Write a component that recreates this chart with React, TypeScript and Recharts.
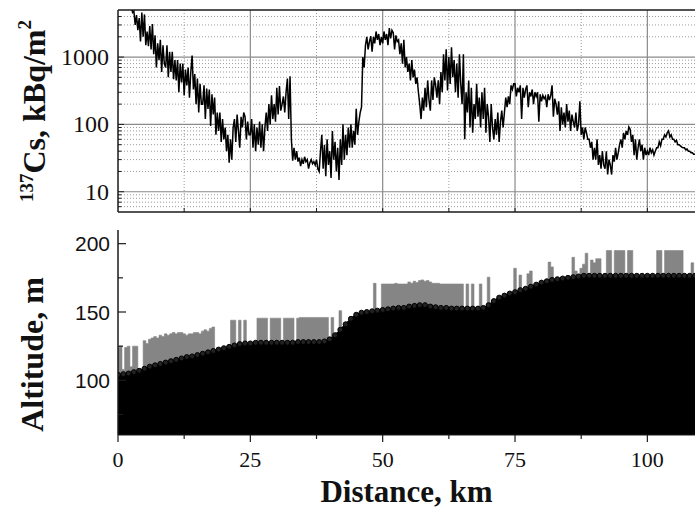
import React from 'react';
import { LineChart, ComposedChart, Line, Area, XAxis, YAxis, ReferenceLine } from 'recharts';

const SERIF = '"Liberation Serif", "Times New Roman", serif';
const SANS = '"Liberation Sans", Arial, sans-serif';

// 137Cs along the route, one reading every 0.25 km from 0 km (four per row = one km)
const CS_STEP = 0.25;
const csValues = [
  9000, 7500, 8000, 6000,
  8500, 6500, 7000, 6000,
  7500, 5500, 6000, 4600,
  4800, 3000, 4200, 2500,
  3800, 1700, 4600, 2000,
  4300, 1500, 2400, 1450,
  2900, 1300, 3100, 1100,
  2100, 700, 1600, 900,
  1800, 600, 1500, 800,
  700, 1500, 500, 1200,
  600, 1200, 470, 900,
  450, 900, 300, 800,
  420, 800, 270, 650,
  380, 700, 250, 600,
  1050, 330, 560, 200,
  480, 150, 400, 200,
  200, 380, 120, 340,
  170, 330, 95, 280,
  140, 250, 70, 150,
  80, 150, 55, 120,
  60, 90, 40, 70,
  27, 60, 30, 90,
  120, 55, 140, 80,
  45, 130, 90, 150,
  130, 60, 110, 70,
  70, 120, 45, 100,
  40, 90, 50, 110,
  45, 100, 40, 90,
  150, 80, 200, 100,
  270, 120, 200, 110,
  350, 140, 370, 160,
  200, 260, 150, 300,
  480, 120, 520, 60,
  29, 45, 30, 40,
  28, 32, 24, 30,
  26, 33, 28, 30,
  22, 27, 30, 26,
  28, 25, 30, 22,
  20, 40, 70, 22,
  50, 17, 60, 25,
  40, 16, 80, 30,
  55, 20, 45, 15,
  60, 25, 100, 30,
  70, 35, 90, 45,
  100, 45, 80, 50,
  170, 70, 110, 150,
  180, 1000, 700, 1500,
  2000, 1300, 1700, 2050,
  1200, 2000, 1600, 2400,
  1800, 2200, 1500, 2000,
  1600, 2400, 1800, 2200,
  1500, 2700, 1900, 2500,
  2300, 1300, 2100, 1700,
  1800, 1100, 1600, 800,
  1800, 700, 1000, 600,
  800, 450, 900, 500,
  650, 400, 500, 300,
  200, 120, 250, 160,
  350, 180, 450, 230,
  160, 450, 230, 500,
  380, 250, 450, 200,
  600, 300, 1100, 450,
  1300, 320, 1000, 400,
  1400, 500, 900, 300,
  800, 250, 1100, 400,
  200, 1100, 60, 300,
  150, 450, 90, 350,
  75, 200, 120, 400,
  130, 250, 90, 300,
  120, 350, 75, 200,
  130, 55, 200, 90,
  60, 120, 70, 150,
  55, 110, 160, 90,
  150, 250, 180, 260,
  200, 380, 330, 400,
  400, 260, 350, 300,
  380, 120, 350, 250,
  330, 380, 180, 300,
  260, 330, 200, 300,
  260, 300, 110, 280,
  220, 270, 240, 260,
  180, 280, 230, 270,
  380, 130, 240, 200,
  140, 220, 80, 180,
  100, 150, 90, 200,
  110, 160, 80, 140,
  110, 90, 150, 80,
  100, 220, 70, 90,
  60, 90, 75, 60,
  60, 45, 55, 30,
  45, 30, 60, 25,
  35, 22, 40, 25,
  22, 40, 18, 30,
  25, 18, 35, 28,
  45, 30, 38, 50,
  60, 45, 75, 60,
  80, 70, 92, 85,
  55, 70, 35, 60,
  30, 45, 60, 40,
  50, 30, 45, 35,
  40, 35, 45, 38,
  42, 35, 40, 45,
  45, 55, 48, 60,
  60, 70, 65, 75,
  80, 65, 70, 60,
  60, 55, 58, 50,
  50, 48, 46, 45,
  45, 42, 43, 40,
  40, 38, 38, 36,
  36,
];

// ground altitude (m), one value per km from 0 km
const groundValues = [
  104, 104.5, 105, 106, 107, 108.5, 110, 111, 112, 113,
  114, 115, 116, 117, 117.5, 118.5, 119.5, 120.5, 121.5, 122.5,
  123.5, 124.5, 125.5, 126.5, 127, 127, 127.5, 127.5, 127.5, 127.5,
  127.5, 127.5, 127.5, 127.5, 128, 128, 128, 128, 128, 128.5,
  130, 133, 137, 141, 145, 148, 149.5, 150, 150.5, 151,
  151.5, 152, 152.5, 153, 153, 154, 154.5, 155, 155, 154,
  153.5, 153, 153, 152.5, 152.5, 152.5, 152.5, 152.5, 152.5, 153,
  155, 158, 160.5, 162, 163.5, 164.5, 166, 167, 168.5, 170,
  171.5, 172.5, 173.5, 174, 174.5, 175, 175.5, 176, 176.5, 176.5,
  176.5, 176.5, 176.5, 176.5, 176.5, 176.5, 176.5, 176.5, 176.5, 176.5,
  176.5, 176.5, 176.5, 176.5, 176.5, 176.5, 176.5, 176.5, 176.5, 176.5,
];

// GPS altitude (m), one value every 0.5 km from 0 km
const ALT_STEP = 0.5;
const gpsValues = [
  124, 125, 108, 124, 125, 110, 125, 125, 107, 108,
  129, 127, 130, 131, 132, 131, 133, 132, 134, 133,
  134, 135, 134, 135, 135, 134, 133, 134, 134, 135,
  135, 134, 136, 137, 136, 138, 139,
  121, 122, 123, 123.5, 124, 124.5,
  144, 144, 126, 144, 126, 144, 127,
  127, 127, 127.5,
  145.5, 145.5, 145.5, 145.5, 128, 145.5, 145.5, 145.5, 145.5, 128,
  145.5, 145.5, 145.5, 145.5, 128, 145.5,
  146, 146, 146, 146, 146, 146, 146, 146, 146, 146, 146,
  130, 146, 133, 135, 151, 139, 141, 143, 145, 146.5,
  148, 149, 149.5, 150, 150, 150, 150.5,
  171, 151, 151,
  170.5, 170.5, 170.5, 170.5, 170.5, 171, 170.5, 170.5, 170.5, 170.5,
  172, 171, 172.5, 171.5, 173, 173.5, 172.5, 173, 172, 171,
  171, 171, 170.5, 170.5, 170.5, 170.5, 170.5, 170.5, 170.5, 170.5,
  170.5, 153, 170.5, 153, 170.5, 153, 153, 170.5, 153,
  154, 175.5, 156, 158, 159, 160.5, 161, 162, 163, 163.5,
  164, 182, 165, 177, 166, 167, 178, 180, 169, 170,
  171, 171.5, 172, 172.5, 186.5, 183, 173.5, 174, 174, 174.5,
  175, 175, 175.5, 190,
  180, 176, 182, 185, 193, 177, 188, 186, 189, 189,
  176.5, 176.5,
  195, 195, 176.5, 195, 195, 195, 195, 176.5, 195, 195,
  176.5, 176.5, 176.5, 176.5, 176.5, 176.5, 176.5, 176.5, 176.5,
  195, 195, 176.5, 195, 195, 195, 195, 195, 195, 195,
  176.5, 176.5, 176.5, 186, 176.5,
];

const csTicks = [6, 7, 8, 9, 10, 20, 30, 40, 50, 60, 70, 80, 90, 100, 200, 300, 400, 500, 600, 700, 800, 900, 1000, 2000, 3000, 4000];
const csMajor = [10, 100, 1000];
const csMinorGrid = [6, 7, 8, 9, 20, 30, 40, 50, 60, 70, 80, 90, 200, 300, 400, 500, 600, 700, 800, 900, 2000, 3000, 4000];
const distTicks = [0, 12.5, 25, 37.5, 50, 62.5, 75, 87.5, 100];
const distMajor = [25, 50, 75, 100];
const distMinor = [12.5, 37.5, 62.5, 87.5];
const altTicks = [75, 100, 125, 150, 175, 200];
const altMajor = [100, 150, 200];

const csData = csValues.map((v, i) => ({ d: i * CS_STEP, cs: v }));
const altData = gpsValues.map((g, i) => ({
  d: i * ALT_STEP,
  gps: g,
  ground: i % 2 === 0 ? groundValues[i / 2] : null,
}));

const AX = '#1a1a1a';

function CsTick({ x, y, payload }: any) {
  const v = payload.value;
  const major = csMajor.includes(v);
  const ax = x + 9;
  return (
    <g>
      <line x1={ax} x2={ax + (major ? 6 : 3.5)} y1={y} y2={y} stroke={AX} strokeWidth={1} />
      {major && (
        <text x={x} y={y} dy={8} textAnchor="end" fontSize={24} fontFamily={SERIF} fill="#111">
          {v}
        </text>
      )}
    </g>
  );
}

function TopDistTick({ x, y }: any) {
  return <line x1={x} x2={x} y1={y} y2={y - 4} stroke={AX} strokeWidth={1} />;
}

function BottomDistTick({ x, y, payload }: any) {
  const v = payload.value;
  const major = v % 25 === 0;
  return (
    <g>
      <line x1={x} x2={x} y1={y} y2={y + (major ? 7 : 4)} stroke={AX} strokeWidth={1.2} />
      {major && (
        <text x={x} y={y + 32} textAnchor="middle" fontSize={22} fontFamily={SERIF} fill="#111">
          {v}
        </text>
      )}
    </g>
  );
}

function AltTick({ x, y, payload }: any) {
  const v = payload.value;
  const major = altMajor.includes(v);
  const ax = x + 8;
  return (
    <g>
      <line x1={ax} x2={ax + (major ? 8 : 5)} y1={y} y2={y} stroke={AX} strokeWidth={1.2} />
      {major && (
        <text x={x} y={y} dy={7.5} textAnchor="end" fontSize={21} fontFamily={SANS} fill="#111">
          {v}
        </text>
      )}
    </g>
  );
}

function CsLabel({ viewBox }: any) {
  const cx = 45;
  const cy = viewBox.y + viewBox.height / 2;
  return (
    <text
      x={cx}
      y={cy}
      transform={`rotate(-90, ${cx}, ${cy})`}
      textAnchor="middle"
      fontFamily={SERIF}
      fontWeight="bold"
      fill="#111"
    >
      <tspan fontSize={19} dy={-12}>137</tspan>
      <tspan fontSize={32} dy={12}>Cs, kBq/m</tspan>
      <tspan fontSize={19} dy={-14}>2</tspan>
    </text>
  );
}

function AltLabel({ viewBox }: any) {
  const cx = 43;
  const cy = viewBox.y + viewBox.height / 2 + 22;
  return (
    <text
      x={cx}
      y={cy}
      transform={`rotate(-90, ${cx}, ${cy})`}
      textAnchor="middle"
      fontFamily={SERIF}
      fontWeight="bold"
      fontSize={32}
      fill="#111"
    >
      Altitude, m
    </text>
  );
}

function DistLabel({ viewBox }: any) {
  return (
    <text
      x={viewBox.x + viewBox.width / 2}
      y={viewBox.y + 67}
      textAnchor="middle"
      fontFamily={SERIF}
      fontWeight="bold"
      fontSize={31}
      fill="#111"
    >
      Distance, km
    </text>
  );
}

export default function App() {
  return (
    <div style={{ position: 'absolute', left: 0, top: 0, width: 695, height: 510, background: '#fff' }}>
      <div style={{ position: 'absolute', left: 0, top: 0 }}>
        <LineChart width={695} height={220} data={csData} margin={{ top: 10, right: 0, bottom: 0, left: 0 }}>
          <XAxis
            dataKey="d"
            type="number"
            domain={[0, 109]}
            allowDataOverflow
            ticks={distTicks.filter((t) => t > 0)}
            interval={0}
            height={8}
            tick={TopDistTick}
            tickLine={false}
            tickSize={0}
            tickMargin={0}
            axisLine={{ stroke: AX, strokeWidth: 1.5 }}
          />
          <YAxis
            type="number"
            scale="log"
            domain={[5, 5000]}
            allowDataOverflow
            width={118}
            ticks={csTicks}
            interval={0}
            tick={CsTick}
            tickLine={false}
            tickSize={0}
            tickMargin={9}
            axisLine={{ stroke: AX, strokeWidth: 1.5 }}
            label={CsLabel}
          />
          {csMinorGrid.map((v) => (
            <ReferenceLine key={'hm' + v} y={v} stroke="#9a9a9a" strokeWidth={1} strokeDasharray="1 2" zIndex={-100} />
          ))}
          {distMinor.map((v) => (
            <ReferenceLine key={'vm' + v} x={v} stroke="#9a9a9a" strokeWidth={1} strokeDasharray="1 2" zIndex={-100} />
          ))}
          {csMajor.map((v) => (
            <ReferenceLine key={'hM' + v} y={v} stroke="#8a8a8a" strokeWidth={1.2} zIndex={-90} />
          ))}
          {distMajor.map((v) => (
            <ReferenceLine key={'vM' + v} x={v} stroke="#8a8a8a" strokeWidth={1.2} zIndex={-90} />
          ))}
          <ReferenceLine y={5000} stroke={AX} strokeWidth={1.5} />
          <Line
            dataKey="cs"
            type="linear"
            stroke="#000"
            strokeWidth={1.5}
            dot={false}
            isAnimationActive={false}
          />
        </LineChart>
      </div>
      <div style={{ position: 'absolute', left: 0, top: 220 }}>
        <ComposedChart width={695} height={290} data={altData} margin={{ top: 10, right: 0, bottom: 0, left: 0 }}>
          <XAxis
            dataKey="d"
            type="number"
            domain={[0, 109]}
            allowDataOverflow
            ticks={distTicks}
            interval={0}
            height={75}
            tick={BottomDistTick}
            tickLine={false}
            tickSize={0}
            tickMargin={0}
            axisLine={{ stroke: AX, strokeWidth: 1.2 }}
            label={DistLabel}
          />
          <YAxis
            type="number"
            domain={[60, 210]}
            allowDataOverflow
            width={118}
            ticks={altTicks}
            interval={0}
            tick={AltTick}
            tickLine={false}
            tickSize={0}
            tickMargin={8}
            axisLine={{ stroke: AX, strokeWidth: 1.5 }}
            label={AltLabel}
          />
          <Area
            dataKey="gps"
            type="step"
            baseValue={60}
            stroke="#858585"
            strokeWidth={0.6}
            fill="#858585"
            fillOpacity={1}
            dot={false}
            isAnimationActive={false}
            zIndex={100}
          />
          <Area
            dataKey="ground"
            type="monotone"
            baseValue={60}
            connectNulls
            stroke="#000"
            strokeWidth={1.5}
            fill="#000"
            fillOpacity={1}
            dot={{ r: 2.5, stroke: '#000', strokeWidth: 1, fill: '#222' }}
            isAnimationActive={false}
            zIndex={350}
          />
        </ComposedChart>
      </div>
    </div>
  );
}
